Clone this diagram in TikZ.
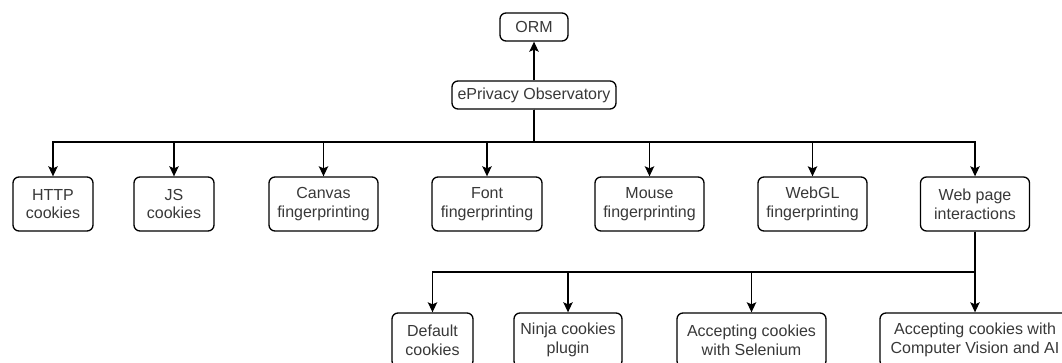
\documentclass[tikz,border=0pt]{standalone}
\usepackage{fontspec}
\setmainfont{Liberation Sans}
\usetikzlibrary{arrows.meta}
\begin{document}
\begin{tikzpicture}[x=0.75pt,y=-0.75pt,
  box/.style 2 args={draw=black, line width=1pt, rounded corners=4.5pt,
    minimum width=#1*0.75pt, minimum height=#2*0.75pt, inner sep=0pt,
    align=center, text=black!78, font=\fontsize{12}{14}\selectfont},
  arr/.style={draw=black, line width=1pt,
    -{Stealth[length=7.5pt,width=7pt,inset=1.5pt]}},
  link/.style={draw=black, line width=1pt}]
\clip (0,0) rectangle (1062,363);
\useasboundingbox (0,0) rectangle (1062,363);

% top levels
\node[box={68}{28}]  (orm) at (534,27) {ORM};
\node[box={164}{28}] (epo) at (534,95) {ePrivacy Observatory};

% first row of modules
\node[box={80}{54}]  (http)   at (53,204)    {HTTP\\cookies};
\node[box={80}{54}]  (js)     at (174,204)   {JS\\cookies};
\node[box={109}{54}] (canvas) at (323.5,204) {Canvas\\fingerprinting};
\node[box={110}{54}] (font)   at (487,204)   {Font\\fingerprinting};
\node[box={109}{54}] (mouse)  at (649.5,204) {Mouse\\fingerprinting};
\node[box={109}{54}] (webgl)  at (812.5,204) {WebGL\\fingerprinting};
\node[box={109}{54}] (web)    at (975,204)   {Web page\\interactions};

% web page interaction variants
\node[box={81}{54}]  (default) at (432.5,340) {Default\\cookies};
\node[box={108}{54}] (ninja)   at (568,340)   {Ninja cookies\\plugin};
\node[box={149}{54}] (selen)   at (751.5,340) {Accepting cookies\\with Selenium};
\node[box={190}{54}] (cv)      at (975,340)   {Accepting cookies with\\Computer Vision and AI};

% bus junctions
\coordinate (b1) at (534,142);
\coordinate (b2) at (975,272);

\draw[arr] (epo.north) -- (orm.south);
\foreach \t in {http,js,canvas,font,mouse,webgl,web}
  \draw[arr] (epo.south) -- (b1) -| (\t.north);
\foreach \t in {default,ninja,selen,cv}
  \draw[arr] (web.south) -- (b2) -| (\t.north);
\end{tikzpicture}
\end{document}
